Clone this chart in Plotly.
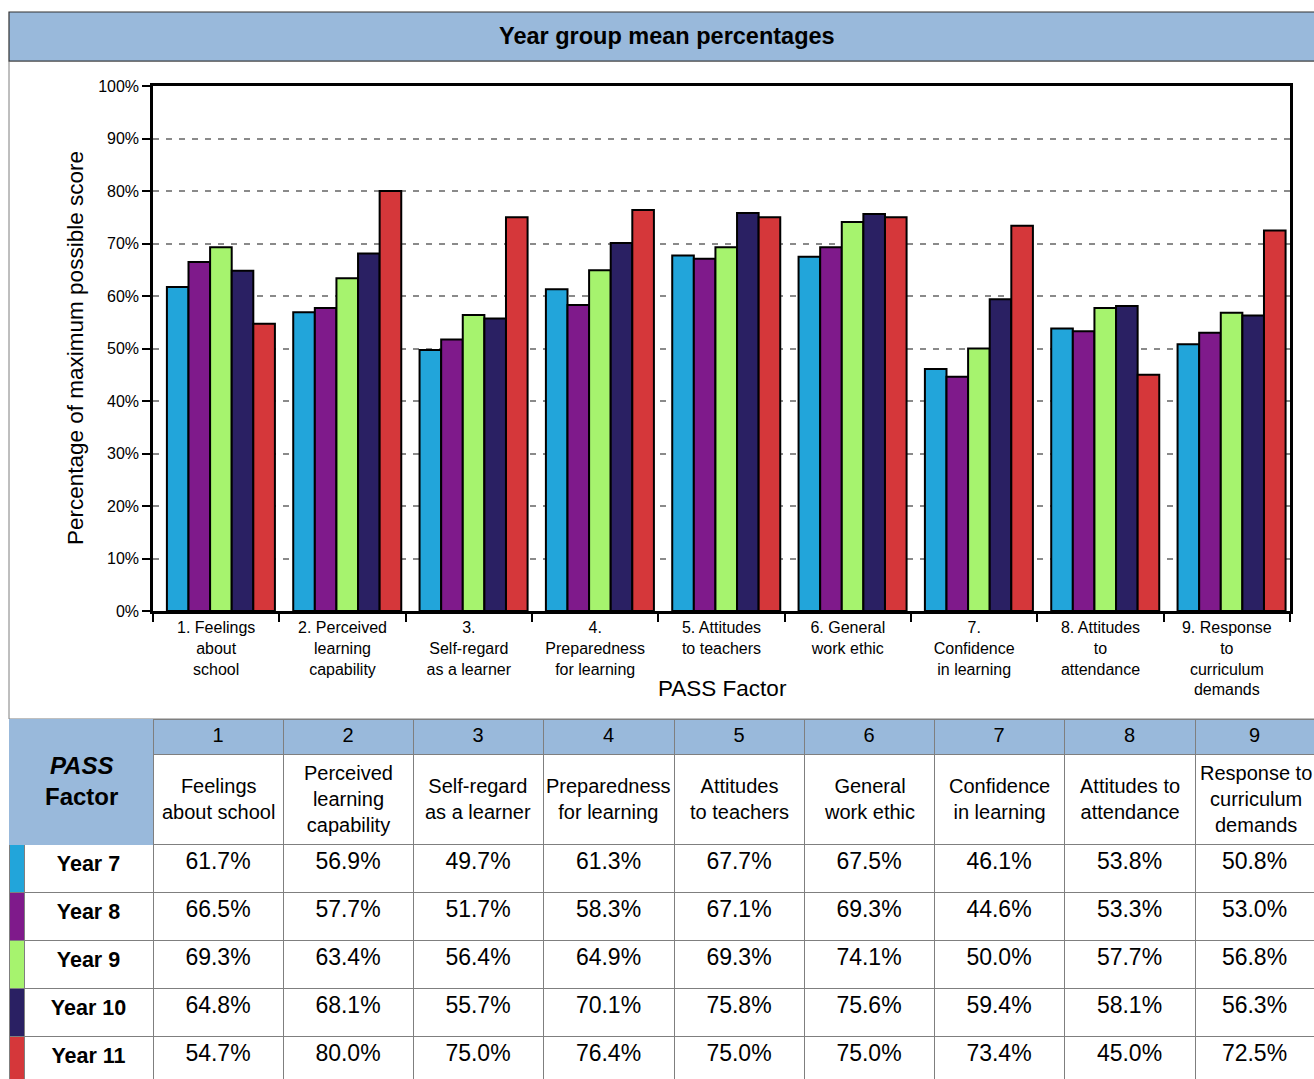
import plotly.graph_objects as go

W, H = 1314, 1079

# category labels (x axis) and table header text
factor_labels = [
    "1. Feelings<br>about<br>school",
    "2. Perceived<br>learning<br>capability",
    "3.<br>Self-regard<br>as a learner",
    "4.<br>Preparedness<br>for learning",
    "5. Attitudes<br>to teachers",
    "6. General<br>work ethic",
    "7.<br>Confidence<br>in learning",
    "8. Attitudes<br>to<br>attendance",
    "9. Response<br>to<br>curriculum<br>demands",
]
factor_numbers = ["1", "2", "3", "4", "5", "6", "7", "8", "9"]
factor_names = [
    "Feelings<br>about school",
    "Perceived<br>learning<br>capability",
    "Self-regard<br>as a learner",
    "Preparedness<br>for learning",
    "Attitudes<br>to teachers",
    "General<br>work ethic",
    "Confidence<br>in learning",
    "Attitudes to<br>attendance",
    "Response to<br>curriculum<br>demands",
]

years = ["Year 7", "Year 8", "Year 9", "Year 10", "Year 11"]
year7 = [61.7, 56.9, 49.7, 61.3, 67.7, 67.5, 46.1, 53.8, 50.8]
year8 = [66.5, 57.7, 51.7, 58.3, 67.1, 69.3, 44.6, 53.3, 53.0]
year9 = [69.3, 63.4, 56.4, 64.9, 69.3, 74.1, 50.0, 57.7, 56.8]
year10 = [64.8, 68.1, 55.7, 70.1, 75.8, 75.6, 59.4, 58.1, 56.3]
year11 = [54.7, 80.0, 75.0, 76.4, 75.0, 75.0, 73.4, 45.0, 72.5]
series = [year7, year8, year9, year10, year11]

y_ticks = [0, 10, 20, 30, 40, 50, 60, 70, 80, 90, 100]

colors = ["#22A5DA", "#7F1A8B", "#A6F36E", "#2A2063", "#D5373A"]
BLUE = "#99B9DB"
GRID_LINE = "#7f7f7f"
FONT = "Liberation Sans, Arial, sans-serif"

# table column widths in px (swatch, label, 9 factors); last one runs off the page
col_widths = [15, 129, 130, 130, 130, 131, 130, 130, 130, 131, 130]
TABLE_LEFT = 9


def px(x):
    return x / W


def py(y):
    return 1 - y / H


fig = go.Figure()

bar_w = 0.171
for k, (name, vals) in enumerate(zip(years, series)):
    fig.add_trace(go.Bar(
        x=factor_labels, y=vals, name=name,
        width=bar_w, offset=-0.39 + k * bar_w,
        marker=dict(color=colors[k], line=dict(color="black", width=2)),
        hoverinfo="skip", showlegend=False,
    ))

# table below the chart
edges = [TABLE_LEFT]
for w in col_widths:
    edges.append(edges[-1] + w)
visible_widths = col_widths[:-1] + [W - edges[-2]]

spacer = "\u00a0<br>\u00a0<br>\u00a0"  # keeps the names row three lines tall
header_vals = [["", ""], ["", ""]] + [[n, spacer] for n in factor_numbers]
header_fill = [[BLUE, BLUE], [BLUE, BLUE]] + [[BLUE, "white"]] * 9
header_line = [[BLUE, BLUE], [BLUE, BLUE]] + [[GRID_LINE, GRID_LINE]] * 9

cell_vals = [[""] * 5, ["<b>%s</b>" % y for y in years]]
for j in range(9):
    cell_vals.append(["%.1f%%" % s[j] for s in series])
cell_fill = [colors] + [["white"] * 5] * 10
cell_sizes = [23, 21.5] + [23] * 9

fig.add_trace(go.Table(
    domain=dict(x=[px(TABLE_LEFT), 1], y=[0, py(719)]),
    columnwidth=visible_widths,
    header=dict(values=header_vals, height=35, align="center",
                fill=dict(color=header_fill),
                line=dict(color=header_line, width=1),
                font=dict(family=FONT, size=20, color="black")),
    cells=dict(values=cell_vals, height=48, align="center",
               fill=dict(color=cell_fill),
               line=dict(color=GRID_LINE, width=1),
               font=dict(family=FONT, size=cell_sizes, color="black")),
))

annotations = [
    dict(text="<b>Year group mean percentages</b>", x=px(667), y=py(36),
         showarrow=False, xanchor="center", yanchor="middle", font=dict(size=23.5)),
    dict(text="Percentage of maximum possible score", x=px(75), y=py(348),
         showarrow=False, textangle=-90, xanchor="center", yanchor="middle", font=dict(size=22.5)),
    dict(text="PASS Factor", x=px(722), y=py(688),
         showarrow=False, xanchor="center", yanchor="middle", font=dict(size=22.5)),
    dict(text="<b><i>PASS</i></b><br><b>Factor</b>", x=px(81), y=py(781),
         showarrow=False, xanchor="center", yanchor="middle", font=dict(size=24)),
]
# factor names in the second header row, centred line by line
for j, name in enumerate(factor_names):
    cx = min((edges[j + 2] + edges[j + 3]) / 2, W - 58)
    annotations.append(dict(text=name, x=px(cx), y=py(799), align="center",
                            showarrow=False, xanchor="center", yanchor="middle",
                            font=dict(size=20)))
for a in annotations:
    a.update(xref="paper", yref="paper")

fig.update_layout(
    width=W, height=H,
    margin=dict(l=0, r=0, t=0, b=0, autoexpand=False),
    paper_bgcolor="white", plot_bgcolor="white",
    barmode="overlay",
    font=dict(family=FONT, color="black"),
    xaxis=dict(
        domain=[px(153), px(1290)], automargin=False,
        showline=True, linecolor="black", linewidth=2.5, mirror=True,
        ticks="outside", tickson="boundaries", ticklen=8, tickwidth=2, tickcolor="black",
        tickfont=dict(size=16), showgrid=False, fixedrange=True,
    ),
    yaxis=dict(
        domain=[py(611), py(86)], range=[0, 100], automargin=False,
        tickvals=y_ticks, ticktext=["%d%%" % v for v in y_ticks],
        showline=True, linecolor="black", linewidth=2.5, mirror=True,
        ticks="outside", ticklen=8, tickwidth=2, tickcolor="black",
        tickfont=dict(size=16),
        showgrid=True, gridcolor="#8a8a8a", gridwidth=2, griddash="6px,7px",
        zeroline=False, fixedrange=True,
    ),
    shapes=[
        dict(type="rect", xref="paper", yref="paper", x0=px(9), x1=1.01, y0=py(719), y1=py(61),
             line=dict(color=GRID_LINE, width=1), layer="below"),
        dict(type="rect", xref="paper", yref="paper", x0=px(9), x1=1.01, y0=py(61), y1=py(12),
             fillcolor=BLUE, line=dict(color="#333333", width=1.2), layer="below"),
    ],
    annotations=annotations,
)

fig.write_html("out.html", config={"displayModeBar": False},
               post_script="document.body.style.margin='0';")
